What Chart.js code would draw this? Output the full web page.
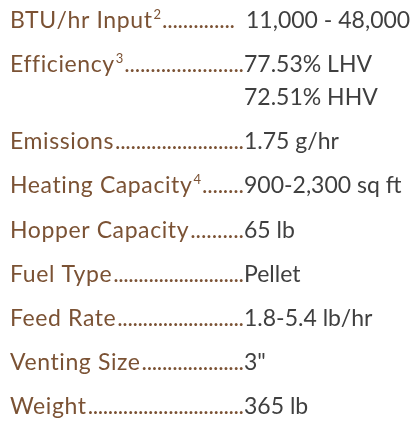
<!DOCTYPE html>
<html>
<head>
<meta charset="utf-8">
<script src="https://cdn.jsdelivr.net/npm/chart.js@4/dist/chart.umd.min.js"></script>
<style>
html,body{margin:0;padding:0;background:#fff;}
#wrap{width:415px;height:423px;position:relative;}
</style>
</head>
<body>
<div id="wrap"><canvas id="c"></canvas></div>
<script>
// ---- data ----
const specNames = ["BTU/hr Input", "Efficiency", "Emissions", "Heating Capacity", "Hopper Capacity", "Fuel Type", "Feed Rate", "Venting Size", "Weight"];
const footnotes = ["2", "3", "", "4", "", "", "", "", ""];
const specValues = [
  [" 11,000 - 48,000"],
  ["77.53% LHV", "72.51% HHV"],
  ["1.75 g/hr"],
  ["900-2,300 sq ft"],
  ["65 lb"],
  ["Pellet"],
  ["1.8-5.4 lb/hr"],
  ["3\""],
  ["365 lb"]
];

// ---- layout / style ----
const LABEL_COLOR = "#7b5234";
const VALUE_COLOR = "#3f3f3f";
const FONT_FAMILY = "Lato, 'Open Sans', sans-serif";
const FONT_SIZE = 23;
const SUP_SIZE = 13;
const LABEL_X = 10;
const VALUE_X = 244;
const EXTRA_LINE = 0.75; // extra row units per wrapped value line

// row positions in "row units" derived from the number of value lines
const rowPos = [];
let acc = 0;
specValues.forEach(v => { rowPos.push(acc); acc += 1 + EXTRA_LINE * (v.length - 1); });
const lastPos = rowPos[rowPos.length - 1];

const specPlugin = {
  id: 'specText',
  afterDatasetsDraw(chart) {
    const ctx = chart.ctx;
    const yScale = chart.scales.y;
    const unitPx = Math.abs(yScale.getPixelForValue(1) - yScale.getPixelForValue(0));
    const meta = chart.getDatasetMeta(0);
    ctx.save();
    ctx.textBaseline = 'alphabetic';
    ctx.textAlign = 'left';
    meta.data.forEach((pt, i) => {
      const y = pt.y;
      // label
      ctx.font = FONT_SIZE + "px " + FONT_FAMILY;
      ctx.letterSpacing = "0.6px";
      ctx.fillStyle = LABEL_COLOR;
      ctx.fillText(specNames[i], LABEL_X, y);
      let x = LABEL_X + ctx.measureText(specNames[i]).width;
      ctx.letterSpacing = "0px";
      if (footnotes[i]) {
        ctx.font = SUP_SIZE + "px " + FONT_FAMILY;
        ctx.fillText(footnotes[i], x + 1, y - 9);
        x += 1 + ctx.measureText(footnotes[i]).width;
        ctx.font = FONT_SIZE + "px " + FONT_FAMILY;
      }
      // dot leaders
      const first = specValues[i][0];
      const spaced = first.startsWith(" ");
      const endX = spaced ? VALUE_X - 10 : VALUE_X - 1;
      const dotW = ctx.measureText(".").width;
      const n = Math.max(1, Math.floor((endX - x) / 5));
      const step = (endX - x - dotW) / (n - 1 || 1);
      for (let k = 0; k < n; k++) {
        ctx.fillText(".", x + 1 + k * step, y);
      }
      // values
      ctx.fillStyle = VALUE_COLOR;
      specValues[i].forEach((v, k) => {
        ctx.fillText(v.trim(), spaced && k === 0 ? VALUE_X + 2 : VALUE_X, y + k * EXTRA_LINE * unitPx);
      });
    });
    ctx.restore();
  }
};

// y mapping: row unit 0 -> baseline 28px, last row -> baseline 414px
const H = 423, TOP_BASE = 28, BOT_BASE = 414;
const pxPerUnit = (BOT_BASE - TOP_BASE) / lastPos;
const yMin = -TOP_BASE / pxPerUnit;
const yMax = yMin + H / pxPerUnit;

new Chart(document.getElementById('c'), {
  type: 'scatter',
  data: {
    datasets: [{
      data: rowPos.map((p, i) => ({ x: 0, y: p })),
      pointRadius: 0,
      pointHoverRadius: 0
    }]
  },
  options: {
    responsive: true,
    maintainAspectRatio: false,
    animation: false,
    events: [],
    layout: { padding: 0 },
    plugins: { legend: { display: false }, tooltip: { enabled: false } },
    scales: {
      x: { display: false, min: 0, max: 1 },
      y: { display: false, reverse: true, min: yMin, max: yMax }
    }
  },
  plugins: [specPlugin]
});
</script>
</body>
</html>
